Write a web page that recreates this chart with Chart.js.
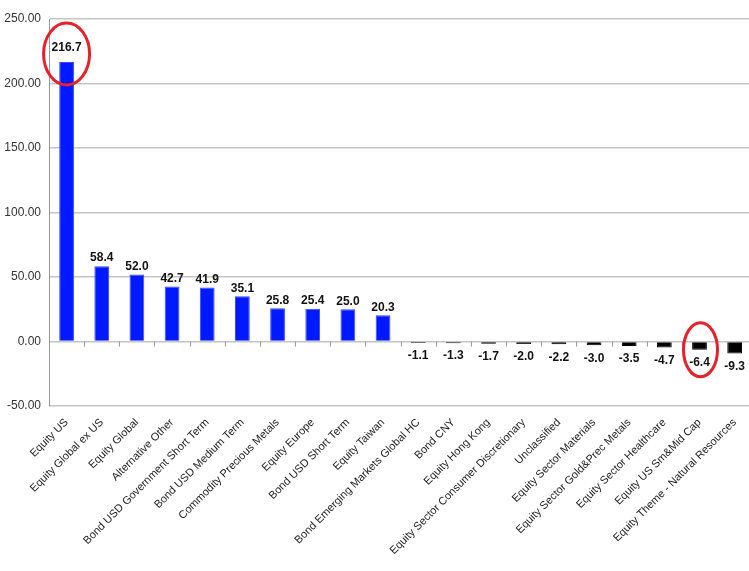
<!DOCTYPE html>
<html>
<head>
<meta charset="utf-8">
<script src="https://cdn.jsdelivr.net/npm/chart.js@4"></script>
<style>
  html, body { margin: 0; padding: 0; background: #fff; overflow: hidden; }
  #clip { width: 749px; height: 571px; overflow: hidden; }
  #wrap { width: 754px; height: 571px; position: relative; }
</style>
</head>
<body>
<div id="clip"><div id="wrap"><canvas id="flows"></canvas></div></div>
<script>
const categories = [
  "Equity US", "Equity Global ex US", "Equity Global", "Alternative Other",
  "Bond USD Government Short Term", "Bond USD Medium Term", "Commodity Precious Metals",
  "Equity Europe", "Bond USD Short Term", "Equity Taiwan", "Bond Emerging Markets Global HC",
  "Bond CNY", "Equity Hong Kong", "Equity Sector Consumer Discretionary", "Unclassified",
  "Equity Sector Materials", "Equity Sector Gold&Prec Metals", "Equity Sector Healthcare",
  "Equity US Sm&Mid Cap", "Equity Theme - Natural Resources"
];
const flows = [216.7, 58.4, 52.0, 42.7, 41.9, 35.1, 25.8, 25.4, 25.0, 20.3,
  -1.1, -1.3, -1.7, -2.0, -2.2, -3.0, -3.5, -4.7, -6.4, -9.3];
const yTicks = [-50, 0, 50, 100, 150, 200, 250];
// bars that get a red ring drawn round them
const circled = [0, 18];

const canvas = document.getElementById("flows");

const valueLabels = {
  id: "valueLabels",
  afterDatasetsDraw(chart) {
    const ctx = chart.ctx;
    const bars = chart.getDatasetMeta(0).data;
    ctx.save();
    ctx.font = "bold 12px 'Liberation Sans', Arial, sans-serif";
    ctx.fillStyle = "#111";
    ctx.textAlign = "center";
    bars.forEach((bar, i) => {
      const v = flows[i];
      if (v >= 0) {
        ctx.textBaseline = "bottom";
        ctx.fillText(v.toFixed(1), bar.x, bar.y - (i === 0 ? 8 : 2));
      } else {
        ctx.textBaseline = "top";
        ctx.fillText(v.toFixed(1), bar.x, bar.y + 7);
      }
    });
    ctx.restore();
  }
};

const extras = {
  id: "extras",
  beforeDatasetsDraw(chart) {
    // small tick marks hanging under the zero line
    const ctx = chart.ctx;
    const x = chart.scales.x;
    const zero = chart.scales.y.getPixelForValue(0);
    const half = (x.getPixelForValue(1) - x.getPixelForValue(0)) / 2;
    ctx.save();
    ctx.strokeStyle = "#999";
    ctx.lineWidth = 1;
    ctx.beginPath();
    for (let i = 1; i < categories.length; i++) {
      const px = Math.round(x.getPixelForValue(i) - half) + 0.5;
      ctx.moveTo(px, zero);
      ctx.lineTo(px, zero + 5);
    }
    ctx.stroke();
    ctx.restore();
  },
  afterDraw(chart) {
    const ctx = chart.ctx;
    const bars = chart.getDatasetMeta(0).data;
    ctx.save();
    ctx.strokeStyle = "#e8202a";
    ctx.lineWidth = 3;
    circled.forEach((i) => {
      const bar = bars[i];
      ctx.beginPath();
      if (flows[i] >= 0) {
        ctx.ellipse(bar.x, bar.y - 8, 23, 31, 0, 0, Math.PI * 2);
      } else {
        ctx.ellipse(bar.x + 1, bar.y, 17, 27, 0, 0, Math.PI * 2);
      }
      ctx.stroke();
    });
    ctx.restore();
  }
};

new Chart(canvas, {
  type: "bar",
  data: {
    labels: categories,
    datasets: [
      {
        data: flows,
        backgroundColor: flows.map((v) => (v >= 0 ? "#0019ff" : "#000000")),
        borderColor: flows.map((v) => (v >= 0 ? "#3348ff" : "#000000")),
        borderWidth: 1,
        categoryPercentage: 1,
        barPercentage: 0.42,
      },
    ],
  },
  options: {
    responsive: true,
    maintainAspectRatio: false,
    animation: false,
    layout: { padding: { top: 19, right: 0, left: 0, bottom: 0 } },
    plugins: {
      legend: { display: false },
      tooltip: { enabled: false },
    },
    scales: {
      x: {
        grid: { display: false, drawTicks: false },
        border: { display: false },
        ticks: {
          autoSkip: false,
          maxRotation: 45,
          minRotation: 45,
          padding: 10,
          color: "#222",
          font: { family: "'Liberation Sans', Arial, sans-serif", size: 11 },
        },
        afterFit(scale) {
          scale.height = 165;
        },
      },
      y: {
        min: -50,
        max: 250,
        afterBuildTicks(scale) {
          scale.ticks = yTicks.map((value) => ({ value }));
        },
        grid: { color: "#c4c4c4", lineWidth: 1.5, drawTicks: false },
        border: { display: true, color: "#999", width: 1 },
        ticks: {
          padding: 8,
          color: "#333",
          font: { family: "'Liberation Sans', Arial, sans-serif", size: 12 },
          callback: (value) => Number(value).toFixed(2),
        },
        afterFit(scale) {
          scale.width = 49;
        },
      },
    },
  },
  plugins: [valueLabels, extras],
});
</script>
</body>
</html>
